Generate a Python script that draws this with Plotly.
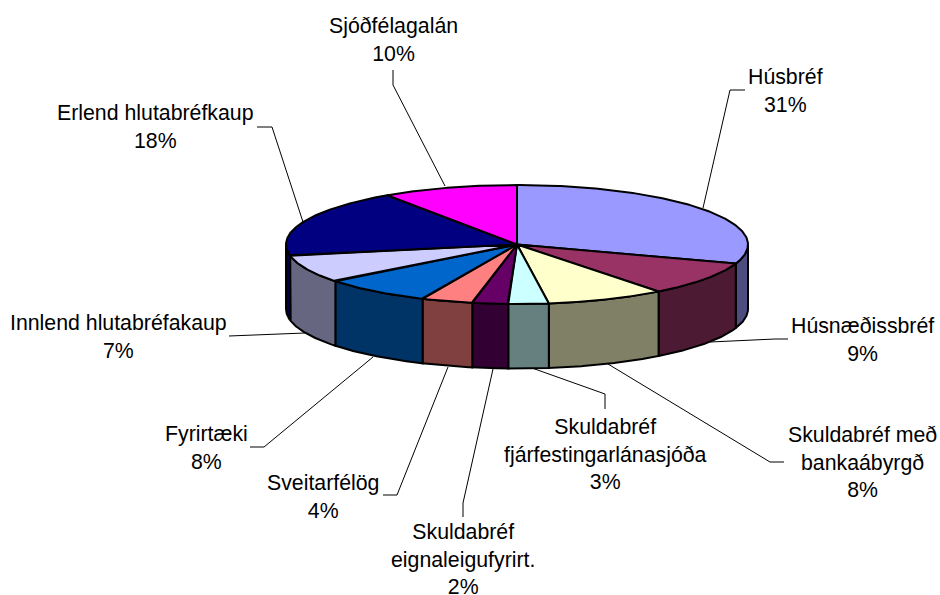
import numpy as np
import plotly.graph_objects as go

# --- data ---
categories = ["Húsbréf", "Húsnæðissbréf", "Skuldabréf með<br>bankaábyrgð",
              "Skuldabréf<br>fjárfestingarlánasjóða", "Skuldabréf<br>eignaleigufyrirt.",
              "Sveitarfélög", "Fyrirtæki", "Innlend hlutabréfakaup",
              "Erlend hlutabréfkaup", "Sjóðfélagalán"]
values = [30.2, 9.3, 8.3, 2.8, 2.5, 3.6, 7.7, 7.6, 18.5, 9.5]
percent_labels = ["31%", "9%", "8%", "3%", "2%", "4%", "8%", "7%", "18%", "10%"]
top_colors = ["#9999FF", "#993366", "#FFFFCC", "#CCFFFF", "#660066",
              "#FF8080", "#0066CC", "#CCCCFF", "#000080", "#FF00FF"]
wall_colors = ["#4D4D80", "#4D1A33", "#808066", "#668080", "#330033",
               "#804040", "#003366", "#666680", "#000040", "#800080"]

# --- layout (pixels of the 940x595 page) ---
CX, CY, RX, RY, DEPTH = 517, 244.5, 231, 59.5, 64.5
label_pos = [(785, 91), (862, 339.5), (862, 462.5), (605, 454.5), (463, 559),
             (323, 496.5), (206, 447.5), (118, 337), (155, 127), (393, 39.5)]
leaders = [
    [(745, 90), (730, 90), (703, 208)],
    [(788, 339), (775, 339), (710, 342)],
    [(784, 462), (770, 462), (608, 364)],
    [(605, 409), (605, 394), (532, 368)],
    [(463, 517), (463, 503), (493, 369)],
    [(383, 495), (397, 495), (448, 367)],
    [(250, 447), (264, 447), (373, 357)],
    [(229, 336), (305, 333)],
    [(257, 127), (272, 127), (303, 222)],
    [(393, 70), (393, 85), (445, 186)],
]

def px(theta):
    return CX + RX * np.sin(theta)

def py(theta, drop=0.0):
    return CY - RY * np.cos(theta) + drop

fig = go.Figure()

# leader lines
for pts in leaders:
    fig.add_trace(go.Scatter(x=[p[0] for p in pts], y=[p[1] for p in pts], mode="lines",
                             line=dict(color="#000000", width=1), hoverinfo="skip"))

edges = np.concatenate([[0], np.cumsum(values)]) / np.sum(values) * 2 * np.pi

# outer walls: only the front half of the ellipse (90 deg to 270 deg) is visible
for i, colour in enumerate(wall_colors):
    a = max(edges[i], np.pi / 2)
    b = min(edges[i + 1], 3 * np.pi / 2)
    if b <= a:
        continue
    t = np.linspace(a, b, 80)
    xs = np.concatenate([px(t), px(t[::-1]), px(t[:1])])
    ys = np.concatenate([py(t), py(t[::-1], DEPTH), py(t[:1])])
    fig.add_trace(go.Scatter(x=xs, y=ys, mode="lines", fill="toself", fillcolor=colour,
                             line=dict(color="#000000", width=2), hoverinfo="skip"))

# top faces
for i, colour in enumerate(top_colors):
    t = np.linspace(edges[i], edges[i + 1], 160)
    xs = np.concatenate([[CX], px(t), [CX]])
    ys = np.concatenate([[CY], py(t), [CY]])
    fig.add_trace(go.Scatter(x=xs, y=ys, mode="lines", fill="toself", fillcolor=colour,
                             line=dict(color="#000000", width=2), hoverinfo="skip"))

for name, pct, (lx, ly) in zip(categories, percent_labels, label_pos):
    fig.add_annotation(x=lx, y=ly, text=f"{name}<br>{pct}", showarrow=False,
                       xanchor="center", yanchor="middle", align="center",
                       font=dict(family="Liberation Sans", size=21.3, color="#000000"))

fig.update_layout(
    width=940, height=595, margin=dict(l=0, r=0, t=0, b=0),
    paper_bgcolor="#FFFFFF", plot_bgcolor="#FFFFFF", showlegend=False,
    xaxis=dict(range=[0, 940], visible=False, fixedrange=True),
    yaxis=dict(range=[595, 0], visible=False, fixedrange=True),
)
fig.write_html("out.html", config={"displayModeBar": False},
               post_script="document.body.style.margin='0';document.body.style.overflow='hidden';")
